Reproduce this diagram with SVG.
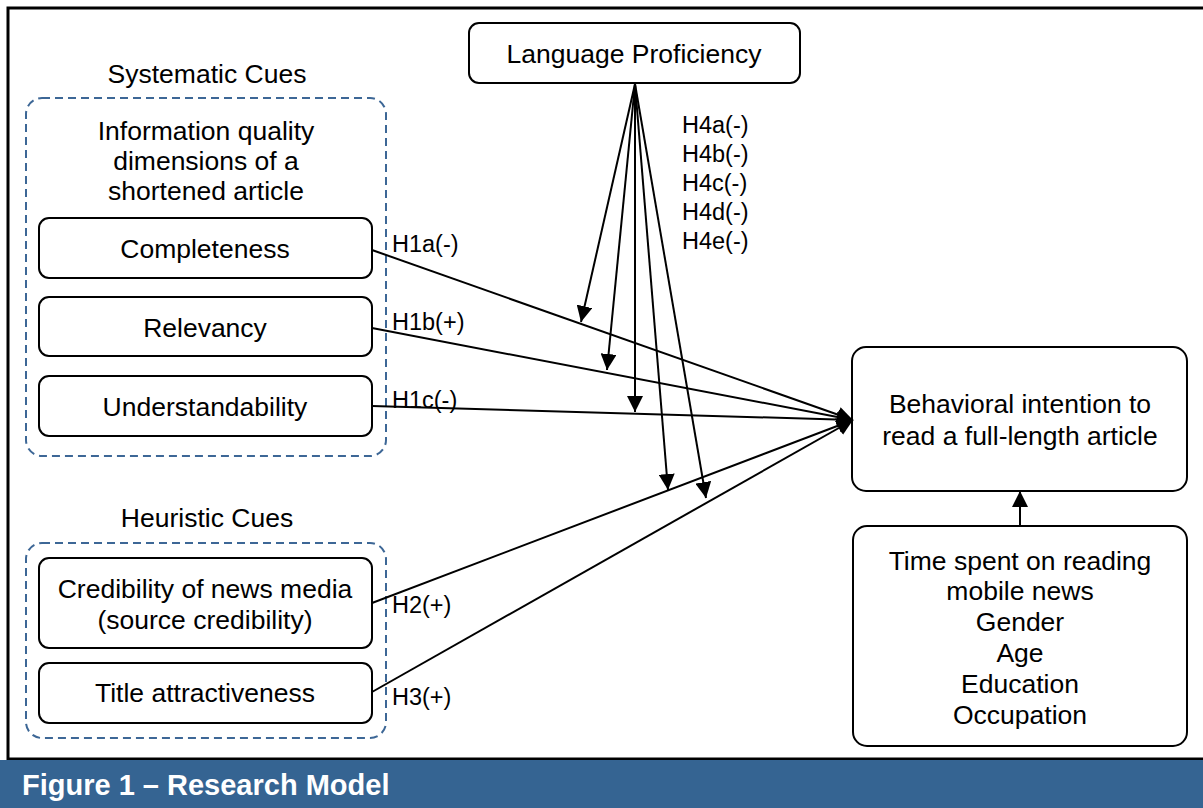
<svg xmlns="http://www.w3.org/2000/svg" width="1203" height="808" viewBox="0 0 1203 808">
<style>
.box{fill:#fff;stroke:#000;stroke-width:2}
.grp{fill:none;stroke:#3d6796;stroke-width:2;stroke-dasharray:8,5}
.t{font-family:"Liberation Sans",Arial,sans-serif;font-size:26.5px;fill:#000;text-anchor:middle}
.lab{font-family:"Liberation Sans",Arial,sans-serif;font-size:23.5px;fill:#000}
.c{stroke:#000;stroke-width:2;fill:none;marker-end:url(#ah)}
</style>
<defs>
<marker id="ah" markerUnits="userSpaceOnUse" markerWidth="18" markerHeight="16" refX="16" refY="8" orient="auto">
<path d="M0,0 L16,8 L0,16 Z" fill="#000"/>
</marker>
</defs>
<rect x="0" y="0" width="1203" height="808" fill="#fff"/>
<rect x="8" y="8" width="1210" height="751" fill="none" stroke="#000" stroke-width="3"/>
<rect x="0" y="760" width="1203" height="48" fill="#356492"/>
<text x="22" y="795" font-family="Liberation Sans,Arial,sans-serif" font-size="29" font-weight="bold" fill="#fff">Figure 1 – Research Model</text>

<g id="systematic">
<text class="t" x="207" y="83">Systematic Cues</text>
<rect class="grp" x="26" y="98" width="360" height="358" rx="16"/>
<text class="t" x="206" y="140">Information quality</text>
<text class="t" x="206" y="170">dimensions of a</text>
<text class="t" x="206" y="200">shortened article</text>
</g>
<g id="completeness"><rect class="box" x="39" y="218" width="333" height="60" rx="10"/><text class="t" x="205" y="258">Completeness</text></g>
<g id="relevancy"><rect class="box" x="39" y="297" width="333" height="59" rx="10"/><text class="t" x="205" y="337">Relevancy</text></g>
<g id="understandability"><rect class="box" x="39" y="376" width="333" height="60" rx="10"/><text class="t" x="205" y="416">Understandability</text></g>

<g id="heuristic">
<text class="t" x="207" y="527">Heuristic Cues</text>
<rect class="grp" x="26" y="543" width="360" height="195" rx="16"/>
</g>
<g id="credibility"><rect class="box" x="39" y="558" width="333" height="90" rx="10"/><text class="t" x="205" y="598">Credibility of news media</text><text class="t" x="205" y="629">(source credibility)</text></g>
<g id="title"><rect class="box" x="39" y="663" width="333" height="60" rx="10"/><text class="t" x="205" y="702">Title attractiveness</text></g>

<g id="language"><rect class="box" x="469" y="23" width="331" height="60" rx="10"/><text class="t" x="634" y="63">Language Proficiency</text></g>

<g id="behavioral"><rect class="box" x="852" y="347" width="335" height="144" rx="14"/><text class="t" x="1020" y="413">Behavioral intention to</text><text class="t" x="1020" y="445">read a full-length article</text></g>

<g id="controls"><rect class="box" x="853" y="526" width="334" height="220" rx="14"/>
<text class="t" x="1020" y="570">Time spent on reading</text>
<text class="t" x="1020" y="600">mobile news</text>
<text class="t" x="1020" y="631">Gender</text>
<text class="t" x="1020" y="662">Age</text>
<text class="t" x="1020" y="693">Education</text>
<text class="t" x="1020" y="724">Occupation</text>
</g>

<g id="connectors">
<line class="c" x1="372" y1="250" x2="853" y2="420"/>
<line class="c" x1="372" y1="328" x2="853" y2="420"/>
<line class="c" x1="372" y1="406" x2="853" y2="420"/>
<line class="c" x1="372" y1="603" x2="853" y2="420"/>
<line class="c" x1="372" y1="692" x2="853" y2="420"/>
<line class="c" x1="635" y1="84" x2="581" y2="322"/>
<line class="c" x1="635" y1="84" x2="607" y2="370"/>
<line class="c" x1="635" y1="84" x2="635" y2="412"/>
<line class="c" x1="635" y1="84" x2="668" y2="490"/>
<line class="c" x1="635" y1="84" x2="706" y2="498"/>
<line class="c" x1="1020" y1="526" x2="1020" y2="491"/>
<text class="lab" x="392" y="252">H1a(-)</text>
<text class="lab" x="392" y="330">H1b(+)</text>
<text class="lab" x="392" y="408">H1c(-)</text>
<text class="lab" x="392" y="613">H2(+)</text>
<text class="lab" x="392" y="705">H3(+)</text>
<text class="lab" x="682" y="133">H4a(-)</text>
<text class="lab" x="682" y="162">H4b(-)</text>
<text class="lab" x="682" y="191">H4c(-)</text>
<text class="lab" x="682" y="220">H4d(-)</text>
<text class="lab" x="682" y="249">H4e(-)</text>
</g>
</svg>
